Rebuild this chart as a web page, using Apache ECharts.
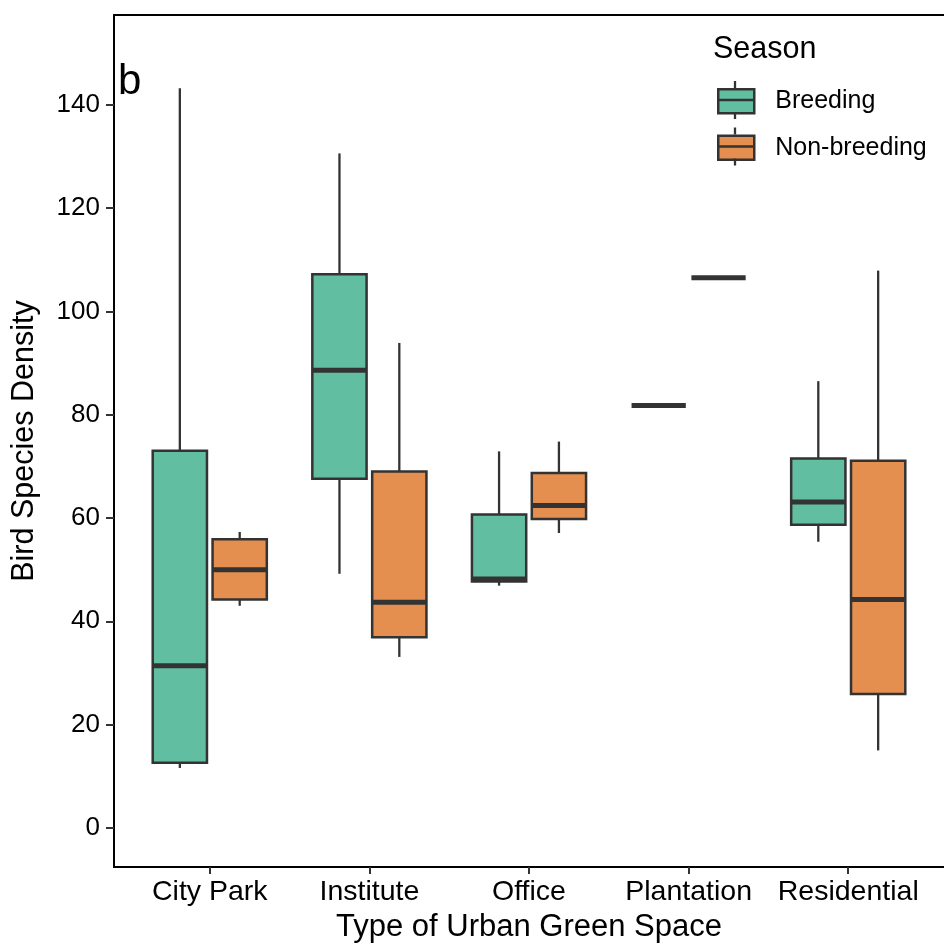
<!DOCTYPE html>
<html>
<head>
<meta charset="utf-8">
<script src="https://cdn.jsdelivr.net/npm/echarts@6/dist/echarts.min.js"></script>
<style>html,body{margin:0;padding:0;background:#fff;}#c{width:944px;height:948px;}</style>
</head>
<body>
<div id="c"></div>
<script>
// ---- data ----
const categories = ['City Park', 'Institute', 'Office', 'Plantation', 'Residential'];
const seasons = ['Breeding', 'Non-breeding'];
// [lower whisker, Q1, median, Q3, upper whisker]
const breeding = [
  [11.6, 12.6, 31.4, 73.0, 143.2],
  [49.2, 67.6, 88.6, 107.2, 130.6],
  [46.9, 47.7, 48.2, 60.7, 72.9],
  [81.8, 81.8, 81.8, 81.8, 81.8],
  [55.4, 58.7, 63.1, 71.5, 86.5]
];
const nonBreeding = [
  [43.0, 44.2, 50.0, 55.9, 57.3],
  [33.1, 36.9, 43.7, 69.0, 93.9],
  [57.1, 59.8, 62.4, 68.7, 74.8],
  [106.5, 106.5, 106.5, 106.5, 106.5],
  [15.0, 25.9, 44.2, 71.1, 107.9]
];
const yTicks = [0, 20, 40, 60, 80, 100, 120, 140];
const xTicks = [1, 2, 3, 4, 5];

const colors = ['#62BEA0', '#E48F4F'];
const FONT = 'Liberation Sans, Arial, sans-serif';
const DODGE = 0.1875, BOXW = 0.34;
const STROKE = '#333333';

function makeRender(offset) {
  return function (params, api) {
    const cx = api.value(0) + offset;
    const lo = api.coord([cx, api.value(1)]);
    const q1 = api.coord([cx, api.value(2)]);
    const md = api.coord([cx, api.value(3)]);
    const q3 = api.coord([cx, api.value(4)]);
    const hi = api.coord([cx, api.value(5)]);
    const hw = api.size([BOXW, 0])[0] / 2;
    const x = md[0];
    const fill = api.visual('color');
    const children = [];
    if (hi[1] < q3[1]) children.push({type: 'line', shape: {x1: x, y1: hi[1], x2: x, y2: q3[1]}, style: {stroke: STROKE, lineWidth: 2.3}});
    if (lo[1] > q1[1]) children.push({type: 'line', shape: {x1: x, y1: q1[1], x2: x, y2: lo[1]}, style: {stroke: STROKE, lineWidth: 2.3}});
    if (q1[1] - q3[1] > 0.5) children.push({type: 'rect', shape: {x: x - hw, y: q3[1], width: hw * 2, height: q1[1] - q3[1]}, style: {fill: fill, stroke: STROKE, lineWidth: 2.5}});
    children.push({type: 'line', shape: {x1: x - hw, y1: md[1], x2: x + hw, y2: md[1]}, style: {stroke: STROKE, lineWidth: 5}});
    return {type: 'group', children: children};
  };
}

function toData(arr) {
  return arr.map((v, i) => [i + 1].concat(v));
}

const chart = echarts.init(document.getElementById('c'), null, {renderer: 'canvas'});

// legend key details (whiskers + median) drawn over legend rect icons
const keyL = 717, keyR = 753, keyX = 735;
const keys = [{top: 88, bot: 112}, {top: 134.5, bot: 158.5}];
const legendExtras = [];
keys.forEach(k => {
  legendExtras.push({type: 'line', shape: {x1: keyX, y1: k.top - 7, x2: keyX, y2: k.top}, style: {stroke: STROKE, lineWidth: 2.3}, z: 200});
  legendExtras.push({type: 'line', shape: {x1: keyX, y1: k.bot, x2: keyX, y2: k.bot + 7}, style: {stroke: STROKE, lineWidth: 2.3}, z: 200});
  legendExtras.push({type: 'line', shape: {x1: keyL, y1: (k.top + k.bot) / 2, x2: keyR, y2: (k.top + k.bot) / 2}, style: {stroke: STROKE, lineWidth: 2.5}, z: 200});
});

chart.setOption({
  animation: false,
  backgroundColor: '#ffffff',
  color: colors,
  textStyle: {fontFamily: FONT},
  title: [
    {text: 'Season', left: 708, top: 29, textStyle: {fontFamily: FONT, fontSize: 30.5, fontWeight: 'normal', color: '#000'}},
    {text: 'b', left: 113, top: 56, textStyle: {fontFamily: FONT, fontSize: 42, fontWeight: 'normal', color: '#000'}}
  ],
  legend: {
    orient: 'vertical',
    left: 712,
    top: 83,
    itemWidth: 36,
    itemHeight: 24,
    itemGap: 20,
    icon: 'rect',
    data: seasons,
    itemStyle: {borderColor: STROKE, borderWidth: 2.5},
    textStyle: {fontFamily: FONT, fontSize: 25, color: '#000', padding: [0, 0, 0, 16], lineHeight: 24}
  },
  grid: {left: 114, right: 0, top: 15, bottom: 80.5, containLabel: false},
  xAxis: [
    {
      type: 'value', min: 0.4, max: 5.6,
      name: 'Type of Urban Green Space', nameLocation: 'middle', nameGap: 42,
      nameTextStyle: {fontFamily: FONT, fontSize: 31, color: '#000'},
      axisLine: {show: true, onZero: false, lineStyle: {color: '#000', width: 2}},
      axisTick: {show: true, length: 7, customValues: xTicks, lineStyle: {color: '#333', width: 2}},
      axisLabel: {customValues: xTicks, margin: 11, fontFamily: FONT, fontSize: 28.5, color: '#000',
        formatter: v => categories[Math.round(v) - 1] || ''},
      splitLine: {show: false}
    },
    {
      type: 'value', min: 0.4, max: 5.6, position: 'top',
      axisLine: {show: true, onZero: false, lineStyle: {color: '#000', width: 2}},
      axisTick: {show: false}, axisLabel: {show: false}, splitLine: {show: false}
    }
  ],
  yAxis: {
    type: 'value', min: -7.6, max: 157.4,
    name: 'Bird Species Density', nameLocation: 'middle', nameGap: 74, nameRotate: 90,
    nameTextStyle: {fontFamily: FONT, fontSize: 30.5, color: '#000'},
    axisLine: {show: true, onZero: false, lineStyle: {color: '#000', width: 2}},
    axisTick: {show: true, length: 8, customValues: yTicks, lineStyle: {color: '#333', width: 2}},
    axisLabel: {customValues: yTicks, margin: 14, fontFamily: FONT, fontSize: 26, color: '#000'},
    splitLine: {show: false}
  },
  series: [
    {
      name: seasons[0], type: 'custom', renderItem: makeRender(-DODGE),
      encode: {x: 0, y: [1, 2, 3, 4, 5]}, data: toData(breeding), clip: false,
      itemStyle: {color: colors[0], borderColor: STROKE, borderWidth: 2.5}
    },
    {
      name: seasons[1], type: 'custom', renderItem: makeRender(DODGE),
      encode: {x: 0, y: [1, 2, 3, 4, 5]}, data: toData(nonBreeding), clip: false,
      itemStyle: {color: colors[1], borderColor: STROKE, borderWidth: 2.5}
    }
  ],
  graphic: legendExtras
});
</script>
</body>
</html>
